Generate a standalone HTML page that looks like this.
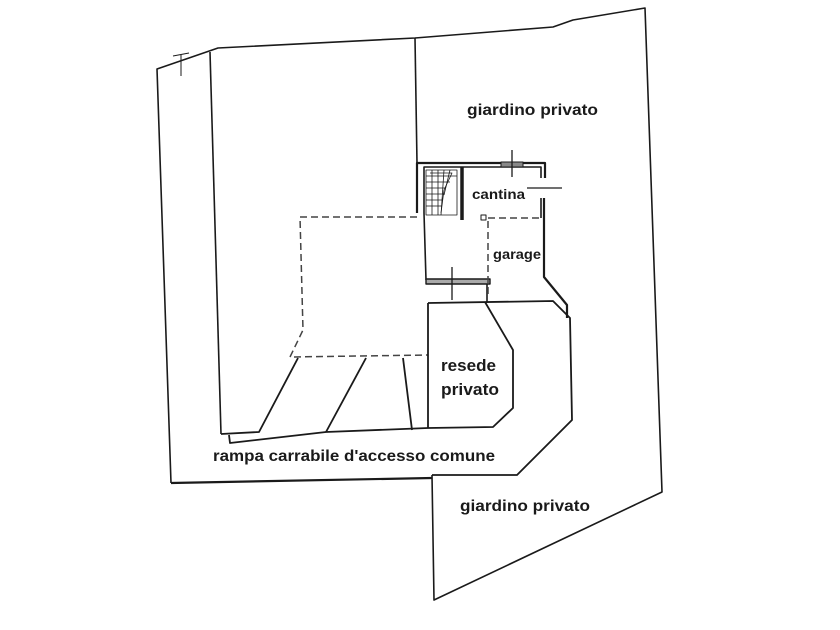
<!DOCTYPE html>
<html><head><meta charset="utf-8"><style>
html,body{margin:0;padding:0;background:#fff;}
svg{display:block;}
text{font-family:"Liberation Sans",sans-serif;font-weight:bold;fill:#1a1a1a;}
</style></head><body>
<svg width="840" height="630" viewBox="0 0 840 630" xmlns="http://www.w3.org/2000/svg">
<g fill="none" stroke="#1a1a1a" stroke-width="1.6" stroke-linejoin="round">
<polyline points="171,483 157,69 218,48 415,38 553,27 573,20 645,8 662,492 434,600 432,475"/>
<line x1="171" y1="483" x2="432" y2="478" stroke-width="2.2"/>
<line x1="210" y1="52" x2="221" y2="434"/>
<line x1="415" y1="38" x2="417" y2="163"/>
<line x1="173" y1="56" x2="189" y2="53" stroke-width="1"/>
<line x1="181" y1="55" x2="181" y2="76" stroke-width="1"/>
<polyline points="417,213 417,163 545,163 545,178" stroke-width="2.2"/>
<polyline points="424,213 424,167 541,167 541,178" stroke-width="1.6"/>
<rect x="501" y="162" width="22" height="5" fill="#888" stroke-width="1"/>
<polyline points="544,198 544,277 567,305 567,318" stroke-width="2.2"/>
<line x1="541" y1="198" x2="541" y2="218" stroke-width="1.6"/>
<line x1="424" y1="213" x2="426" y2="280" stroke-width="1.6"/>
<line x1="462" y1="167" x2="462" y2="220" stroke-width="3.5"/>
<line x1="512" y1="150" x2="512" y2="177" stroke-width="1.3"/>
<line x1="527" y1="188" x2="562" y2="188" stroke-width="1.3"/>
<rect x="481" y="215" width="5" height="5" stroke-width="1"/>
<g stroke-width="0.8">
<rect x="426" y="170" width="31" height="45"/>
<line x1="426" y1="176" x2="457" y2="176"/><line x1="426" y1="182" x2="450" y2="182"/>
<line x1="426" y1="188" x2="446" y2="188"/><line x1="426" y1="194" x2="444" y2="194"/>
<line x1="426" y1="200" x2="443" y2="200"/><line x1="426" y1="206" x2="442" y2="206"/>
<line x1="432" y1="170" x2="432" y2="215"/><line x1="438" y1="170" x2="438" y2="215"/>
<line x1="444" y1="170" x2="441" y2="215"/><line x1="450" y1="170" x2="444" y2="195"/>
<polyline points="430,173 452,173 444,190 441,213"/>
</g>
<rect x="426" y="279" width="64" height="5" fill="#aaa" stroke-width="1.4"/>
<line x1="452" y1="267" x2="452" y2="300" stroke-width="1.3"/>
<line x1="487" y1="284" x2="487" y2="302" stroke-width="1.6"/>
<g stroke-dasharray="7,4" stroke-width="1.5" stroke="#444">
<polyline points="417,217 300,217 303,330 290,357 428,355"/>
<line x1="488" y1="218" x2="541" y2="218"/>
<line x1="488" y1="221" x2="488" y2="298"/>
</g>
<polyline points="428,303 553,301 570,318 572,420 517,475 432,475" stroke-width="1.8"/>
<polyline points="485,302 513,350 513,408 493,427 428,428" stroke-width="1.8"/>
<line x1="428" y1="303" x2="428" y2="428" stroke-width="1.8"/>
<polyline points="221,434 259,432 298,358" stroke-width="1.8"/>
<polyline points="229,435 230,443 326,432 428,428" stroke-width="1.8"/>
<line x1="326" y1="432" x2="366" y2="358" stroke-width="1.8"/>
<line x1="412" y1="430" x2="403" y2="358" stroke-width="1.8"/>
</g>
<text x="467" y="115" font-size="16" textLength="131" lengthAdjust="spacingAndGlyphs">giardino privato</text>
<text x="472" y="199" font-size="13.5" textLength="53" lengthAdjust="spacingAndGlyphs">cantina</text>
<text x="493" y="259" font-size="13.5" textLength="48" lengthAdjust="spacingAndGlyphs">garage</text>
<text x="441" y="371" font-size="16.5" textLength="55" lengthAdjust="spacingAndGlyphs">resede</text>
<text x="441" y="395" font-size="16.5" textLength="58" lengthAdjust="spacingAndGlyphs">privato</text>
<text x="213" y="461" font-size="16" textLength="282" lengthAdjust="spacingAndGlyphs">rampa carrabile d'accesso comune</text>
<text x="460" y="511" font-size="16" textLength="130" lengthAdjust="spacingAndGlyphs">giardino privato</text>
</svg>
</body></html>
